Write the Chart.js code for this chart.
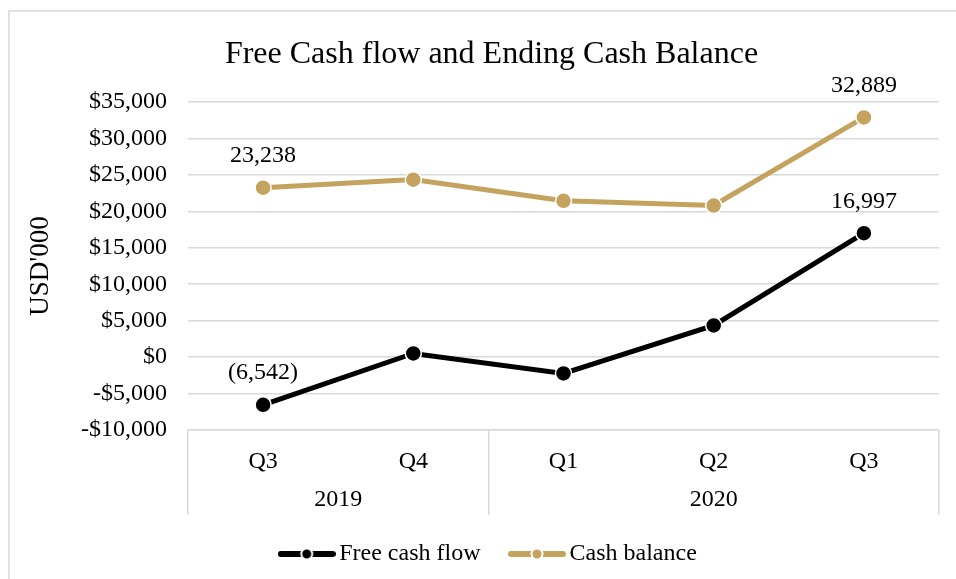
<!DOCTYPE html>
<html>
<head>
<meta charset="utf-8">
<script src="https://cdn.jsdelivr.net/npm/chart.js@4.4.1/dist/chart.umd.min.js"></script>
<style>
  html, body { margin: 0; padding: 0; background: #fff; }
</style>
</head>
<body>
<canvas id="chart" width="956" height="579"></canvas>
<script>
// ---- data ----
const quarters = ["Q3", "Q4", "Q1", "Q2", "Q3"];
const years = ["2019", "2020"];
const yearSpans = [2, 3]; // number of quarters under each year
const freeCashFlow = [-6542, 500, -2240, 4350, 16997];
const cashBalance = [23238, 24350, 21450, 20800, 32889];
const labelledPoints = [0, 4]; // only first and last points carry a value label
const yMin = -10000, yMax = 35000, yStep = 5000;

const SERIF = "'Liberation Serif', 'Times New Roman', serif";
const GOLD = "#c4a35e";
const GRID = "#d9d9d9";

const fmtMoney = (v) => (v < 0 ? "-$" : "$") + Math.abs(v).toLocaleString("en-US");
const fmtLabel = (v) => (v < 0 ? "(" + Math.abs(v).toLocaleString("en-US") + ")" : v.toLocaleString("en-US"));

// legend marker: thick line with a dot in the middle
function legendMarker(color) {
  const c = document.createElement("canvas");
  c.width = 58; c.height = 14;
  const g = c.getContext("2d");
  g.strokeStyle = color; g.lineWidth = 6; g.lineCap = "round";
  g.beginPath(); g.moveTo(3, 7); g.lineTo(55, 7); g.stroke();
  g.fillStyle = color; g.strokeStyle = "#fff"; g.lineWidth = 2;
  g.beginPath(); g.arc(29, 7, 5.5, 0, Math.PI * 2); g.fill(); g.stroke();
  return c;
}

// ---- plugins ----
const framePlugin = {
  id: "frame",
  beforeDraw(chart) {
    const ctx = chart.ctx;
    ctx.save();
    ctx.strokeStyle = GRID; ctx.lineWidth = 1.5;
    ctx.beginPath();
    ctx.moveTo(9, chart.height); ctx.lineTo(9, 11); ctx.lineTo(chart.width, 11);
    ctx.stroke();
    ctx.restore();
  },
};

const yearPlugin = {
  id: "years",
  afterDraw(chart) {
    const x = chart.scales.x, ctx = chart.ctx;
    const half = (x.getPixelForValue(1) - x.getPixelForValue(0)) / 2;
    ctx.save();
    ctx.font = "24px " + SERIF; ctx.fillStyle = "#000";
    ctx.textAlign = "center"; ctx.textBaseline = "middle";
    let start = 0;
    years.forEach((yr, i) => {
      const end = start + yearSpans[i] - 1;
      const cx = (x.getPixelForValue(start) - half + x.getPixelForValue(end) + half) / 2;
      ctx.fillText(yr, cx, 500);
      start = end + 1;
    });
    ctx.restore();
  },
};

const valueLabelPlugin = {
  id: "valueLabels",
  afterDatasetsDraw(chart) {
    const ctx = chart.ctx;
    ctx.save();
    ctx.font = "24px " + SERIF; ctx.fillStyle = "#000";
    ctx.textAlign = "center"; ctx.textBaseline = "middle";
    chart.data.datasets.forEach((ds, di) => {
      const meta = chart.getDatasetMeta(di);
      labelledPoints.forEach((i) => {
        const pt = meta.data[i];
        ctx.fillText(fmtLabel(ds.data[i]), pt.x, pt.y - 32);
      });
    });
    ctx.restore();
  },
};

// ---- chart ----
const series = [
  { label: "Free cash flow", data: freeCashFlow, color: "#000000" },
  { label: "Cash balance", data: cashBalance, color: GOLD },
];

new Chart(document.getElementById("chart"), {
  type: "line",
  data: {
    labels: quarters,
    datasets: series.map((s) => ({
      label: s.label,
      data: s.data,
      borderColor: s.color,
      backgroundColor: s.color,
      borderWidth: 5,
      tension: 0,
      pointRadius: 8,
      pointBackgroundColor: s.color,
      pointBorderColor: "#fff",
      pointBorderWidth: 1.5,
      pointHoverRadius: 8,
    })),
  },
  options: {
    responsive: false,
    animation: false,
    events: [],
    layout: { padding: { left: 44, right: 17, top: 0, bottom: 3 } },
    plugins: {
      tooltip: { enabled: false },
      title: {
        display: true,
        text: "Free Cash flow and Ending Cash Balance",
        color: "#000",
        font: { family: SERIF, size: 32, weight: "normal" },
        padding: { top: 35, bottom: 28.6 },
      },
      legend: {
        position: "bottom",
        labels: {
          color: "#000",
          font: { family: SERIF, size: 24 },
          usePointStyle: true,
          pointStyleWidth: 41,
          padding: 36,
          generateLabels: () =>
            series.map((s, i) => ({
              text: s.label,
              fillStyle: s.color,
              strokeStyle: s.color,
              lineWidth: 0,
              pointStyle: legendMarker(s.color),
              datasetIndex: i,
              hidden: false,
            })),
        },
      },
    },
    scales: {
      x: {
        offset: true,
        afterFit: (s) => { s.height = 76; },
        grid: {
          offset: true,
          drawOnChartArea: false,
          tickLength: 85,
          lineWidth: 1.5,
          // only the outer edges and the 2019/2020 divider
          color: (c) => (c.index === undefined || c.index === 0 || c.index === yearSpans[0] ? GRID : "rgba(0,0,0,0)"),
        },
        border: { display: true, color: GRID, width: 1.5 },
        ticks: { color: "#000", font: { family: SERIF, size: 24 }, padding: -68, maxRotation: 0 },
      },
      y: {
        min: yMin,
        max: yMax,
        afterFit: (s) => { s.width = 144; },
        grid: { color: GRID, lineWidth: 1.5, drawTicks: false },
        border: { display: false },
        ticks: {
          stepSize: yStep,
          color: "#000",
          font: { family: SERIF, size: 24 },
          padding: 21,
          callback: (v) => fmtMoney(v),
        },
        title: {
          display: true,
          text: "USD'000",
          color: "#000",
          font: { family: SERIF, size: 27 },
          padding: { top: -19, bottom: 0 },
        },
      },
    },
  },
  plugins: [framePlugin, yearPlugin, valueLabelPlugin],
});
</script>
</body>
</html>
